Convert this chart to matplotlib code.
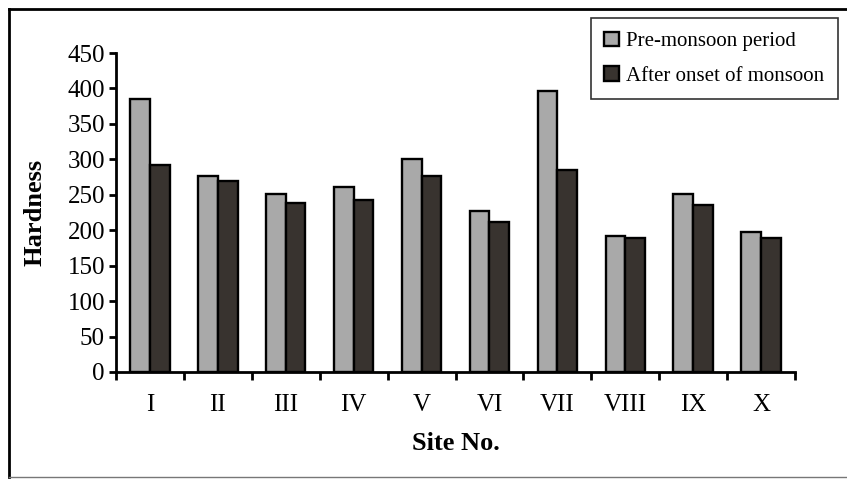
import numpy as np
import matplotlib.pyplot as plt
from matplotlib.lines import Line2D

sites = ['I', 'II', 'III', 'IV', 'V', 'VI', 'VII', 'VIII', 'IX', 'X']
pre_monsoon = [385, 276, 251, 261, 300, 227, 397, 192, 251, 198]
after_onset = [292, 269, 238, 242, 276, 211, 285, 189, 236, 189]
y_ticks = [0, 50, 100, 150, 200, 250, 300, 350, 400, 450]

plt.rcParams['font.family'] = ['Liberation Serif', 'DejaVu Serif']

W, H = 847, 479
fig = plt.figure(figsize=(W / 100, H / 100), dpi=100)
ax = fig.add_axes([116 / W, 1 - 372 / H, (795 - 116) / W, (372 - 53) / H])

x = np.arange(len(sites)) + 0.5
bw = 0.29
ax.bar(x - bw / 2, pre_monsoon, bw, color='#a9a9a9', edgecolor='black',
       linewidth=1.7, label='Pre-monsoon period', zorder=2)
ax.bar(x + bw / 2, after_onset, bw, color='#38332f', edgecolor='black',
       linewidth=1.7, label='After onset of monsoon', zorder=2)

ax.set_xlim(0, len(sites))
ax.set_ylim(0, 450)
ax.set_yticks(y_ticks)
ax.set_xticks(np.arange(len(sites) + 1))
ax.set_xticklabels([])
ax.set_xticks(x, minor=True)
ax.set_xticklabels(sites, minor=True)
ax.tick_params(axis='x', which='major', direction='out', length=6, width=2)
ax.tick_params(axis='x', which='minor', length=0, pad=16, labelsize=18)
ax.tick_params(axis='y', direction='out', length=5, width=2, pad=3, labelsize=18)

for s in ['top', 'right']:
    ax.spines[s].set_visible(False)
for s in ['left', 'bottom']:
    ax.spines[s].set_linewidth(2)

ax.set_xlabel('Site No.', fontsize=19, fontweight='bold', labelpad=11)
ax.set_ylabel('Hardness', fontsize=19, fontweight='bold', labelpad=15)

leg = fig.legend(loc='upper right', bbox_to_anchor=(838 / W, 1 - 18 / H),
                 borderaxespad=0, fancybox=False, edgecolor='black',
                 fontsize=15, handlelength=0.72, handleheight=0.72,
                 handletextpad=0.35, borderpad=0.65, labelspacing=0.7)
leg.get_frame().set_linewidth(1.2)

# outer frame
fig.add_artist(Line2D([9 / W, 1], [1 - 9 / H, 1 - 9 / H], color='black', lw=2))
fig.add_artist(Line2D([9 / W, 9 / W], [1 - 9 / H, 1 - 477 / H], color='black', lw=2))
fig.add_artist(Line2D([9 / W, 1], [1 - 477 / H, 1 - 477 / H], color='#777777', lw=1))

fig.savefig('out.png', dpi=100)
